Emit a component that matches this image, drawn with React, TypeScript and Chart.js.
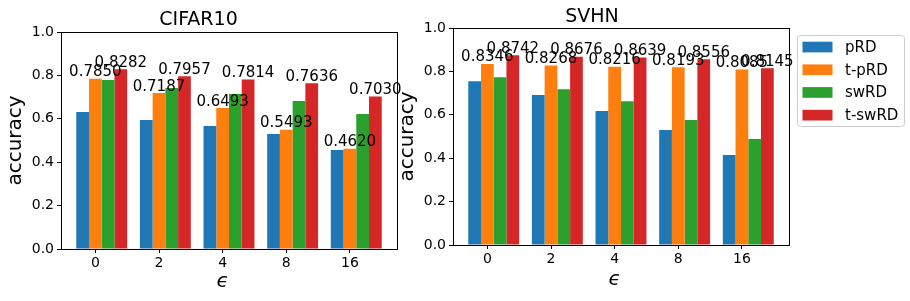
import React, { useEffect, useRef } from "react";
import { Chart, registerables } from "chart.js";

Chart.register(...registerables);

const FONT = "DejaVu Sans";

const epsLabels = ["0", "2", "4", "8", "16"];
const seriesNames = ["pRD", "t-pRD", "swRD", "t-swRD"];
const seriesColors = ["#1f77b4", "#ff7f0e", "#2ca02c", "#d62728"];
const annotatedSeries = [false, true, false, true];
const yTicks = [0, 0.2, 0.4, 0.6, 0.8, 1.0];

const cifarPRD = [0.631, 0.594, 0.567, 0.53, 0.456];
const cifarTPRD = [0.785, 0.7187, 0.6493, 0.5493, 0.462];
const cifarSwRD = [0.779, 0.742, 0.714, 0.682, 0.622];
const cifarTSwRD = [0.8282, 0.7957, 0.7814, 0.7636, 0.703];

const svhnPRD = [0.755, 0.691, 0.617, 0.53, 0.415];
const svhnTPRD = [0.8346, 0.8268, 0.8216, 0.8193, 0.8085];
const svhnSwRD = [0.773, 0.718, 0.663, 0.576, 0.489];
const svhnTSwRD = [0.8742, 0.8676, 0.8639, 0.8556, 0.8145];

// bars are drawn at x-w, x, x+w, x+2w (w = 0.2) so the group centre sits half a bar right of the tick
const GROUP_SHIFT = 0.1;

const framePlugin = {
  id: "frame",
  afterDraw(chart: any) {
    const { ctx, chartArea } = chart;
    ctx.save();
    ctx.strokeStyle = "#000";
    ctx.lineWidth = 1;
    const l = Math.round(chartArea.left) + 0.5;
    const t = Math.round(chartArea.top) + 0.5;
    const r = Math.round(chartArea.right) + 0.5;
    const b = Math.round(chartArea.bottom) + 0.5;
    ctx.strokeRect(l, t, r - l, b - t);
    ctx.restore();
  },
};

const valueLabelPlugin = {
  id: "valueLabels",
  afterDatasetsDraw(chart: any) {
    const ctx = chart.ctx;
    ctx.save();
    ctx.font = `15px "${FONT}"`;
    ctx.fillStyle = "#000";
    ctx.textAlign = "center";
    ctx.textBaseline = "alphabetic";
    chart.data.datasets.forEach((ds: any, k: number) => {
      if (!ds.annotate) return;
      const meta = chart.getDatasetMeta(k);
      meta.data.forEach((bar: any, i: number) => {
        const v = ds.data[i].y as number;
        ctx.fillText(v.toFixed(4), bar.x, bar.y - 2.5);
      });
    });
    ctx.restore();
  },
};

const boxLegendPlugin = {
  id: "boxLegend",
  afterDraw(chart: any) {
    const { ctx, chartArea } = chart;
    const x0 = Math.round(chartArea.right) + 8;
    const y0 = Math.round(chartArea.top) + 7;
    const w = 107;
    const h = 91;
    ctx.save();
    ctx.beginPath();
    ctx.roundRect(x0 + 0.5, y0 + 0.5, w, h, 3);
    ctx.fillStyle = "rgba(255,255,255,0.8)";
    ctx.fill();
    ctx.strokeStyle = "#cccccc";
    ctx.lineWidth = 1;
    ctx.stroke();
    ctx.font = `15px "${FONT}"`;
    ctx.textAlign = "left";
    ctx.textBaseline = "middle";
    chart.data.datasets.forEach((ds: any, k: number) => {
      const cy = y0 + 12 + k * 22.7;
      ctx.fillStyle = ds.backgroundColor;
      ctx.fillRect(x0 + 5.5, cy - 5.3, 30, 10.7);
      ctx.fillStyle = "#000";
      ctx.fillText(ds.label, x0 + 48, cy + 1);
    });
    ctx.restore();
  },
};

type Geom = {
  padRight: number;
  yWidth: number;
  xHeight: number;
  titleTop: number;
  titleBottom: number;
  xTitleBottom: number;
  yTitleTop: number;
};

function makeConfig(title: string, series: number[][], geom: Geom, withLegend: boolean): any {
  const plugins: any[] = [valueLabelPlugin, framePlugin];
  if (withLegend) plugins.push(boxLegendPlugin);
  return {
    type: "bar",
    data: {
      datasets: series.map((vals, k) => ({
        label: seriesNames[k],
        data: vals.map((v, i) => ({ x: i + GROUP_SHIFT, y: v })),
        backgroundColor: seriesColors[k],
        borderWidth: 0,
        barPercentage: 1,
        categoryPercentage: 0.8,
        annotate: annotatedSeries[k],
      })),
    },
    options: {
      responsive: false,
      animation: false,
      events: [],
      layout: { padding: { left: 0, right: geom.padRight, top: 0, bottom: 0 } },
      plugins: {
        legend: { display: false },
        tooltip: { enabled: false },
        title: {
          display: true,
          text: title,
          color: "#000",
          font: { family: FONT, size: 19, weight: "normal" },
          padding: { top: geom.titleTop, bottom: geom.titleBottom },
        },
      },
      scales: {
        x: {
          type: "linear",
          min: -0.54,
          max: 4.74,
          offset: false,
          afterBuildTicks: (s: any) => {
            s.ticks = epsLabels.map((_, i) => ({ value: i }));
          },
          afterFit: (s: any) => {
            s.height = geom.xHeight;
          },
          ticks: {
            callback: (_v: any, i: number) => epsLabels[i],
            color: "#000",
            font: { family: FONT, size: 14 },
            padding: 2,
            maxRotation: 0,
            autoSkip: false,
          },
          grid: {
            offset: false,
            drawOnChartArea: false,
            drawTicks: true,
            tickLength: 4,
            tickColor: "#000",
            color: "#000",
            lineWidth: 1,
          },
          border: { display: false },
          title: {
            display: true,
            text: "ϵ  ",
            color: "#000",
            font: { family: FONT, size: 20, style: "italic" },
            padding: { top: 0, bottom: geom.xTitleBottom },
          },
        },
        y: {
          type: "linear",
          min: 0,
          max: 1,
          afterBuildTicks: (s: any) => {
            s.ticks = yTicks.map((v) => ({ value: v }));
          },
          afterFit: (s: any) => {
            s.width = geom.yWidth;
          },
          ticks: {
            callback: (v: any) => Number(v).toFixed(1),
            color: "#000",
            font: { family: FONT, size: 14 },
            padding: 3,
          },
          grid: {
            drawOnChartArea: false,
            drawTicks: true,
            tickLength: 4,
            tickColor: "#000",
            color: "#000",
            lineWidth: 1,
          },
          border: { display: false },
          title: {
            display: true,
            text: "accuracy",
            color: "#000",
            font: { family: FONT, size: 20 },
            padding: { top: geom.yTitleTop, bottom: 0 },
          },
        },
      },
    },
    plugins,
  };
}

function Panel({ left, width, config }: { left: number; width: number; config: any }) {
  const ref = useRef<HTMLCanvasElement>(null);
  useEffect(() => {
    if (!ref.current) return;
    const chart = new Chart(ref.current, config);
    return () => chart.destroy();
  }, []);
  return (
    <div style={{ position: "absolute", left, top: 0, width, height: 301 }}>
      <canvas ref={ref} width={width} height={301} style={{ display: "block", width, height: 301 }} />
    </div>
  );
}

const leftGeom: Geom = {
  padRight: 8,
  yWidth: 61,
  xHeight: 52,
  titleTop: 8.5,
  titleBottom: 0.7,
  xTitleBottom: 7,
  yTitleTop: 3.3,
};

const rightGeom: Geom = {
  padRight: 121,
  yWidth: 58,
  xHeight: 56,
  titleTop: 5.2,
  titleBottom: 0,
  xTitleBottom: 9,
  yTitleTop: 0.7,
};

export default function App() {
  const leftConfig = makeConfig("CIFAR10", [cifarPRD, cifarTPRD, cifarSwRD, cifarTSwRD], leftGeom, false);
  const rightConfig = makeConfig("SVHN", [svhnPRD, svhnTPRD, svhnSwRD, svhnTSwRD], rightGeom, true);
  return (
    <div style={{ position: "absolute", left: 0, top: 0, width: 910, height: 301, background: "#fff", overflow: "hidden" }}>
      <Panel left={0} width={405} config={leftConfig} />
      <Panel left={395} width={515} config={rightConfig} />
    </div>
  );
}
